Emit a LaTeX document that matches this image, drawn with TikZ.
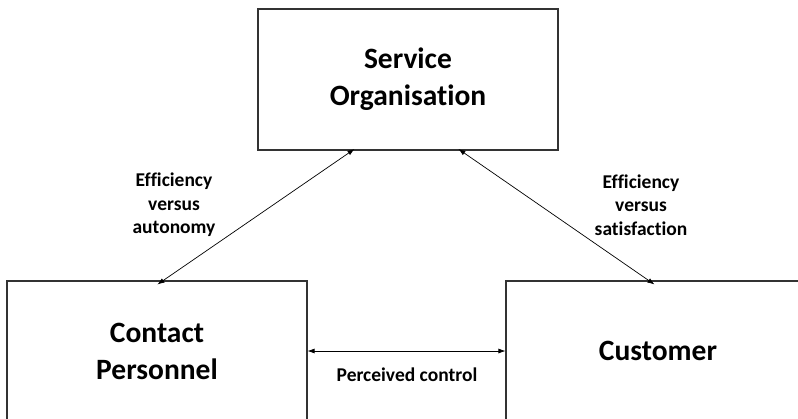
\documentclass[tikz,border=0pt]{standalone}
\usepackage{fontspec}
\setmainfont[Ligatures=NoCommon]{Carlito}
\usetikzlibrary{arrows.meta,calc}
\begin{document}
\begin{tikzpicture}[x=1pt,y=-1pt,
  box/.style={draw=black!80,line width=1.1pt,inner sep=0pt,align=center,
    font=\fontsize{29.5}{37}\selectfont\bfseries},
  lbl/.style={align=center,inner sep=0pt,font=\fontsize{19.5}{23.5}\selectfont\bfseries},
  link/.style={{Latex[length=7pt,width=5pt]}-{Latex[length=7pt,width=5pt]},line width=0.7pt}]
\useasboundingbox (0,0) rectangle (798,418);
\clip (0,0) rectangle (798,418);
\fill[white] (0,0) rectangle (798,418);
\node[box,minimum width=300pt,minimum height=141pt] (org) at (408,79.5) {Service\\Organisation};
\node[box,minimum width=300pt,minimum height=140pt] (cp) at (157,351) {Contact\\Personnel};
\node[box,minimum width=304pt,minimum height=140pt] (cu) at (658,351) {Customer};
\coordinate (a1) at ($(org.south west)+(97,-1.5)$);
\coordinate (a2) at ($(cp.north west)+(151,4)$);
\coordinate (b1) at ($(org.south west)+(201,-1.5)$);
\coordinate (b2) at ($(cu.north west)+(149,4)$);
\draw[link] (a1) -- (a2);
\draw[link] (b1) -- (b2);
\draw[link] (cp.east) -- (cu.west);
\node[lbl] (l1) at (174,205) {Efficiency\\versus\\autonomy};
\node[lbl] (l2) at (641,205) {Efficiency\\versus\\satisfaction};
\node[lbl] (l3) at (407,375) {Perceived control};
\end{tikzpicture}
\end{document}
